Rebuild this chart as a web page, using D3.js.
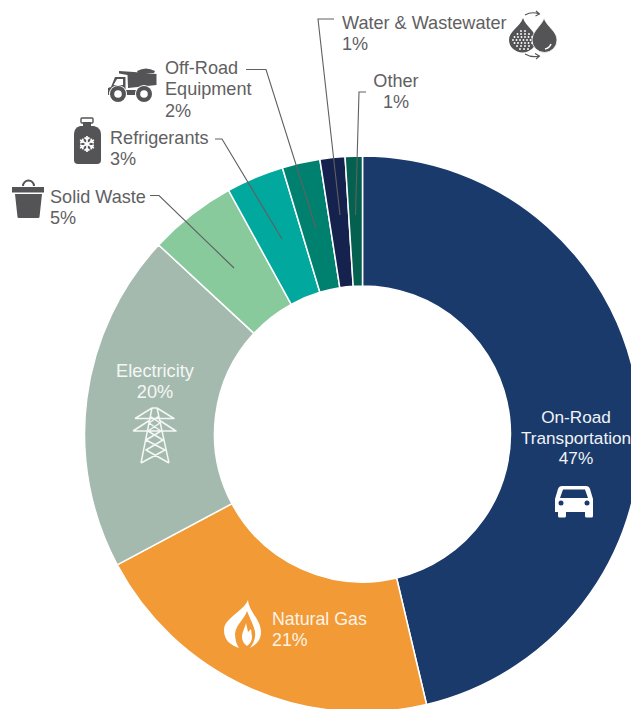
<!DOCTYPE html>
<html><head><meta charset="utf-8">
<script src="https://cdn.jsdelivr.net/npm/d3@7/dist/d3.min.js"></script>
<style>html,body{margin:0;padding:0;background:#fff;overflow:hidden}svg{display:block}text{font-family:"Liberation Sans",sans-serif}</style>
</head><body>
<svg id="c" width="631" height="709"></svg>
<script>
const categories=["On-Road Transportation","Natural Gas","Electricity","Solid Waste","Refrigerants","Off-Road Equipment","Water & Wastewater","Other"];
const shares=[46.3,20.9,19.7,5.1,3.35,2.2,1.45,1.0];
const colors=["#1a3a6c","#f29a35","#a4baaf","#88ca9c","#00a89e","#00816f","#16224e","#05614f"];
const labelLines=[["On-Road","Transportation","47%"],["Natural Gas","21%"],["Electricity","20%"],["Solid Waste","5%"],["Refrigerants","3%"],["Off-Road","Equipment","2%"],["Water & Wastewater","1%"],["Other","1%"]];

const svg=d3.select("#c"), cx=362.5, cy=434, R=278, r=148, INK="#5f6062";
const g=svg.append("g").attr("transform",`translate(${cx},${cy})`);
const pie=d3.pie().sort(null)(shares);
const arc=d3.arc().innerRadius(r).outerRadius(R);
g.selectAll("path").data(pie).join("path").attr("d",arc).attr("fill",(d,i)=>colors[i]).attr("stroke","#fff").attr("stroke-width",1.5);

// leaders
const leaders=[[[150,195.500],[159,195.500],[234,268]],[[215,139],[222,139],[282,239]],[[246,69.500],[266,69.500],[316,228]],[[334,19],[318,19],[340,215]],[[366,92],[359,92],[355.500,215]]];
svg.append("g").selectAll("path").data(leaders).join("path").attr("d",d3.line()).attr("fill","none").attr("stroke",INK).attr("stroke-width",1.1);

// labels: category index, x, anchor, baselines, colour, size
const placements=[
 [0,576,"middle",[423,444,464],"#f1f3f6",17.2],
 [1,272,"start",[625,646],"#fdf3e6",17.8],
 [2,155,"middle",[376.500,397.500],"#f4f7f5",18.2],
 [3,50,"start",[202.500,223.500],INK,18.1],
 [4,110,"start",[143.500,164.500],INK,18.1],
 [5,165,"start",[73.500,94.500,116.500],INK,18.1],
 [6,342,"start",[29,50],INK,18.1],
 [7,396,"middle",[86.500,107.500],INK,18.1]];
placements.forEach(([i,x,a,ys,c,s])=>{labelLines[i].forEach((t,k)=>svg.append("text").attr("x",x).attr("y",ys[k]).attr("text-anchor",a).attr("fill",c).attr("font-size",s).text(t));});

const D="#545456", W="#fff";
// truck
const tr=svg.append("g").attr("fill",D);
tr.append("path").attr("d","M137 71Q146 66 155 71L154 73L138 73Z");
tr.append("path").attr("d","M119 71L134 72L156.500 74L156.500 85L128 88L127.500 75L119 73.500Z");
tr.append("path").attr("d","M125.500 77L125.500 90L139 90L139 95L108 95L108 88L111 87L115 77Z");
tr.append("path").attr("d","M117 79L123 79L123 85L113.500 85Z").attr("fill",W);
[[118,94],[144,94]].forEach(([x,y])=>{tr.append("circle").attr("cx",x).attr("cy",y).attr("r",9).attr("fill",W);tr.append("circle").attr("cx",x).attr("cy",y).attr("r",8);tr.append("circle").attr("cx",x).attr("cy",y).attr("r",3.800).attr("fill",W);});
// bottle
const bo=svg.append("g").attr("fill",D);
bo.append("rect").attr("x",81).attr("y",118).attr("width",12).attr("height",5).attr("rx",1).attr("fill","none").attr("stroke",D).attr("stroke-width",1.400);
bo.append("rect").attr("x",83).attr("y",122).attr("width",8).attr("height",5);
bo.append("path").attr("d","M80 126L94 126Q101 128 101 134L101 160Q101 164 97 164L78 164Q74 164 74 160L74 134Q74 128 80 126Z");
const fl=svg.append("g").attr("transform","translate(87,144)").attr("stroke",W).attr("stroke-width",1.700).attr("fill","none");
d3.range(3).forEach(k=>fl.append("path").attr("transform",`rotate(${k*60})`).attr("d","M0 -8L0 8M-2.500 -6.500L0 -4.500L2.500 -6.500M-2.500 6.500L0 4.500L2.500 6.500"));
// bin
const bi=svg.append("g").attr("fill",D);
bi.append("path").attr("d","M23 186A5.500 5.500 0 0 1 34 186").attr("fill","none").attr("stroke",D).attr("stroke-width",2);
bi.append("rect").attr("x",12).attr("y",187).attr("width",32).attr("height",5.500);
bi.append("path").attr("d","M15 194L42 194L39.500 217Q39.500 218 38 218L19 218Q17.500 218 17.500 217Z");
// drops
const dr=svg.append("g").attr("fill",D);
dr.append("path").attr("d","M523 18C526 27 536 31 536 40A13.500 12.500 0 0 1 509 40C509 31 520 27 523 18Z");
dr.append("path").attr("d","M544 18C547 27 557 31 557 40A12.500 12.500 0 0 1 532 40C532 36 534 33 536 30C539 26 543 22 544 18Z").attr("stroke",W).attr("stroke-width",0.800);
[[31,[521,525]],[34,[517.500,521,525,529]],[37,[514.500,518,521.500,525,528.500,532]],[40,[513,516.500,520,523.500,527,530.500]],[43,[514.500,518,521.500,525,528.500,532]],[46,[517,521,525,529]],[49,[520,524,528]]].forEach(([y,xs])=>xs.forEach(x=>svg.append("circle").attr("cx",x).attr("cy",y).attr("r",0.950).attr("fill",W)));
svg.append("path").attr("d","M551 44A8 8 0 0 1 545 49").attr("fill","none").attr("stroke",W).attr("stroke-width",1.500);
svg.append("g").attr("fill","none").attr("stroke",D).attr("stroke-width",1.100).selectAll("path").data(["M525 15Q532 11 539 14M536 11L539.500 14L535.500 16","M525 54Q532 58 539 56M535 53.500L539.500 56L536 59"]).join("path").attr("d",d=>d);
// tower
svg.append("path").attr("d","M152 408L157 408M135 418.500L174 418.500L157 408M135 418.500L152 408M133 431L176 431L159 420M133 431L150 420M152 408L141 463M157 408L169 463M150 416L160 423L148 431L163 440L146 450L169 463M159 416L149 423L161 431L146 440L165 450L141 463")
 .attr("fill","none").attr("stroke","#f4f7f5").attr("stroke-width",1.500).attr("stroke-linejoin","round");
// flame
svg.append("path").attr("d","M248 600C249 612 261 620 261 632C261 640 256 645 250 648C254 643 257 636 254 628C252 622 249 616 247 611C244 620 236 624 235 634C235 640 237 645 239 648C230 645 224 640 224 630C224 618 243 612 248 600Z").attr("fill",W);
svg.append("path").attr("d","M246 623L248 632L251 629L252 637C252 641 250 644 247 646C244 644 242 641 242 637C242 632 245 628 246 623Z").attr("fill",W);
// car
const ca=svg.append("g").attr("fill",W);
ca.append("path").attr("d","M562 486L586 486Q589 486 590 489L593 499L593 512L555 512L555 499L558 489Q559 486 562 486Z");
ca.append("rect").attr("x",558).attr("y",510).attr("width",8).attr("height",7.500).attr("rx",1.500);
ca.append("rect").attr("x",585).attr("y",510).attr("width",8).attr("height",7.500).attr("rx",1.500);
ca.append("path").attr("d","M563 489.500L585 489.500L588 498L560 498Z").attr("fill",colors[0]);
ca.append("circle").attr("cx",561).attr("cy",503).attr("r",2.500).attr("fill",colors[0]);
ca.append("circle").attr("cx",587).attr("cy",503).attr("r",2.500).attr("fill",colors[0]);
</script>
</body></html>
